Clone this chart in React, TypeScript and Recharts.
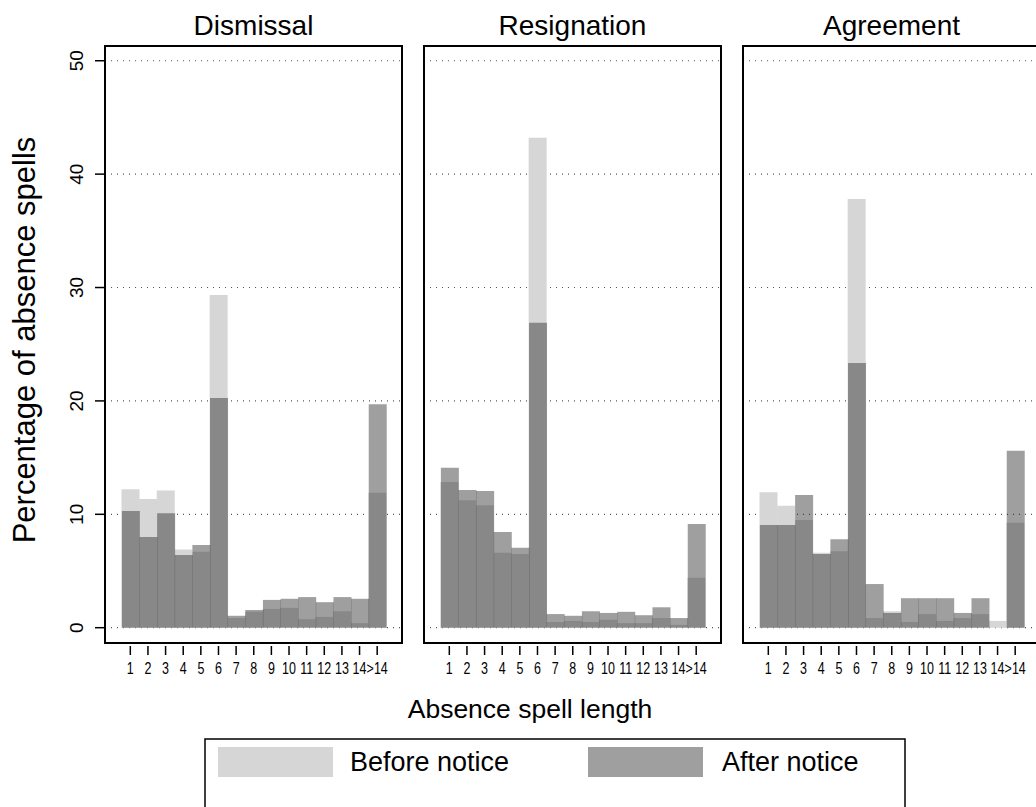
import React from 'react';
import { BarChart, Bar, XAxis, YAxis, CartesianGrid } from 'recharts';

const spellLengths = ['1', '2', '3', '4', '5', '6', '7', '8', '9', '10', '11', '12', '13', '14', '>14'];

const dismissalBefore = [12.2, 11.35, 12.1, 6.9, 6.7, 29.35, 0.85, 1.4, 1.65, 1.75, 0.75, 0.95, 1.45, 0.4, 11.9];
const dismissalAfter = [10.3, 8.0, 10.1, 6.4, 7.3, 20.25, 1.05, 1.55, 2.45, 2.55, 2.7, 2.25, 2.7, 2.55, 19.7];

const resignationBefore = [12.85, 11.25, 10.8, 6.6, 6.5, 43.2, 0.5, 0.6, 0.5, 0.7, 0.4, 0.4, 0.85, 0.25, 4.4];
const resignationAfter = [14.1, 12.15, 12.05, 8.45, 7.05, 26.9, 1.2, 1.05, 1.45, 1.3, 1.4, 1.1, 1.8, 0.85, 9.15];

const agreementBefore = [11.95, 10.75, 9.5, 6.6, 6.75, 37.8, 0.85, 1.45, 0.5, 1.2, 0.6, 0.85, 1.2, 0.6, 9.25];
const agreementAfter = [9.05, 9.05, 11.7, 6.5, 7.8, 23.35, 3.85, 1.3, 2.6, 2.6, 2.6, 1.3, 2.6, 0, 15.6];

const panelTitles = ['Dismissal', 'Resignation', 'Agreement'];
const yTicks = [0, 10, 20, 30, 40, 50];
const legendLabels = ['Before notice', 'After notice'];
const yTitle = 'Percentage of absence spells';
const xTitle = 'Absence spell length';

const FONT = '"Liberation Sans", Arial, Helvetica, sans-serif';
const BEFORE_COLOR = '#d6d6d6';
const AFTER_COLOR = '#242424';
const AFTER_OPACITY = 0.44;
const AFTER_SWATCH = '#9f9f9f';

const PANEL_TOP = 46;
const PANEL_H = 597;
const PANEL_W = 297;
const PANEL_LEFTS = [105, 424, 743];
const Y_AXIS_W = 105;
const X_AXIS_H = 45;

const buildRows = (before: number[], after: number[]) =>
  spellLengths.map((len, i) => ({ len, before: before[i], after: after[i] }));

const panels = [
  buildRows(dismissalBefore, dismissalAfter),
  buildRows(resignationBefore, resignationAfter),
  buildRows(agreementBefore, agreementAfter),
];

const XTick = (props: any) => {
  const { x, y, payload } = props;
  return (
    <g>
      <line x1={x} x2={x} y1={y + 3} y2={y + 12} stroke="#000" strokeWidth={1.5} />
      <text
        x={0}
        y={0}
        transform={`translate(${x} ${y + 30.5}) scale(0.78 1)`}
        textAnchor="middle"
        fontSize={16}
        fontFamily={FONT}
        fill="#000"
      >
        {payload.value}
      </text>
    </g>
  );
};

const YTick = (props: any) => {
  const { x, y, payload } = props;
  return (
    <text
      x={x}
      y={y}
      transform={`rotate(-90 ${x} ${y})`}
      textAnchor="middle"
      fontSize={19}
      fontFamily={FONT}
      fill="#000"
    >
      {payload.value}
    </text>
  );
};

const Panel = ({ data, index }: { data: any[]; index: number }) => {
  const showY = index === 0;
  const width = showY ? Y_AXIS_W + PANEL_W : PANEL_W;
  const left = showY ? 0 : PANEL_LEFTS[index];
  return (
    <div style={{ position: 'absolute', left, top: 0 }}>
      <BarChart
        width={width}
        height={PANEL_TOP + PANEL_H + X_AXIS_H}
        data={data}
        margin={{ top: PANEL_TOP, right: 0, bottom: 0, left: 0 }}
        barCategoryGap={0}
        barGap="-100%"
      >
        <CartesianGrid
          vertical={false}
          stroke="#555"
          strokeDasharray="1 5"
          strokeWidth={1.2}
        />
        <XAxis
          dataKey="len"
          type="category"
          interval={0}
          padding={{ left: 16.5, right: 16 }}
          axisLine={false}
          tickLine={false}
          tickSize={0}
          tickMargin={0}
          height={X_AXIS_H}
          tick={<XTick />}
        />
        <YAxis
          type="number"
          domain={[-1.35, 51.3]}
          ticks={yTicks}
          allowDataOverflow
          hide={!showY}
          width={Y_AXIS_W}
          axisLine={false}
          tickLine={{ stroke: '#000', strokeWidth: 1.5 }}
          tickSize={10}
          tickMargin={11.5}
          tick={<YTick />}
        />
        <Bar dataKey="before" fill={BEFORE_COLOR} isAnimationActive={false} />
        <Bar dataKey="after" fill={AFTER_COLOR} fillOpacity={AFTER_OPACITY} isAnimationActive={false} />
      </BarChart>
    </div>
  );
};

export default function App() {
  return (
    <div
      style={{
        position: 'absolute',
        left: 0,
        top: 0,
        width: 1036,
        height: 807,
        overflow: 'hidden',
        background: '#fff',
        fontFamily: FONT,
      }}
    >
      {panels.map((d, i) => (
        <Panel key={i} data={d} index={i} />
      ))}
      <svg
        width={1036}
        height={807}
        style={{ position: 'absolute', left: 0, top: 0, pointerEvents: 'none' }}
      >
        {PANEL_LEFTS.map((l, i) => (
          <g key={i}>
            <rect x={l} y={PANEL_TOP} width={PANEL_W} height={PANEL_H} fill="none" stroke="#000" strokeWidth={2} />
            <text
              x={l + PANEL_W / 2}
              y={35}
              textAnchor="middle"
              fontSize={28}
              fontFamily={FONT}
              fill="#000"
            >
              {panelTitles[i]}
            </text>
          </g>
        ))}
        <text
          x={35}
          y={340}
          transform="rotate(-90 35 340)"
          textAnchor="middle"
          fontSize={31}
          fontFamily={FONT}
          fill="#000"
        >
          {yTitle}
        </text>
        <text x={530} y={718} textAnchor="middle" fontSize={26.5} fontFamily={FONT} fill="#000">
          {xTitle}
        </text>
        <rect x={205} y={739} width={700} height={90} fill="#fff" stroke="#000" strokeWidth={1.5} />
        <rect x={218} y={747} width={115} height={30} fill={BEFORE_COLOR} />
        <text x={350} y={771} fontSize={27} fontFamily={FONT} fill="#000">
          {legendLabels[0]}
        </text>
        <rect x={588} y={747} width={115} height={30} fill={AFTER_SWATCH} />
        <text x={722} y={771} fontSize={27} fontFamily={FONT} fill="#000">
          {legendLabels[1]}
        </text>
      </svg>
    </div>
  );
}
